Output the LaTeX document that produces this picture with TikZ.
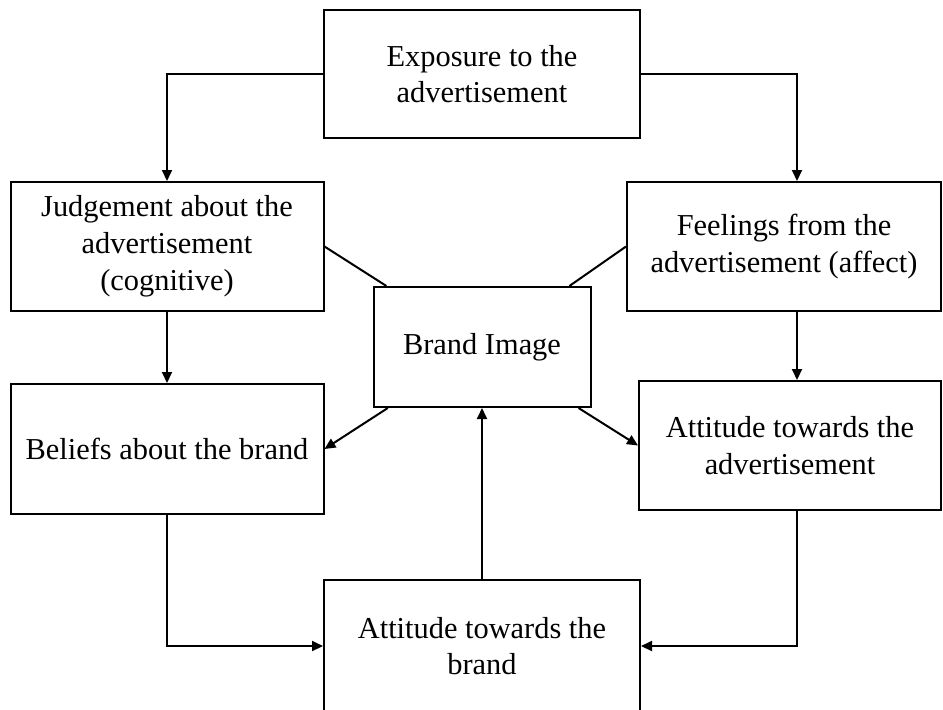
\documentclass[tikz,border=0pt]{standalone}
\usepackage{fontspec}
\setmainfont{Liberation Serif}
\usetikzlibrary{arrows.meta}
\begin{document}
\begin{tikzpicture}[x=0.5pt,y=-0.5pt,
    box/.style={draw,line width=1pt,align=center,inner sep=0pt,
      font=\fontsize{15.2}{18.4}\selectfont},
    arr/.style={line width=1pt,-{Triangle[length=5.5pt,width=5pt]}},
    link/.style={line width=1pt}]
                \useasboundingbox (0,0) rectangle (943,709);
                \node[box,minimum width=158pt,minimum height=64pt] (expo) at (482,74) {Exposure to the\\advertisement};
                \node[box,minimum width=156.5pt,minimum height=64.5pt] (judge) at (167,246.5) {Judgement about the\\advertisement\\(cognitive)};
                \node[box,minimum width=157pt,minimum height=64.5pt] (feel) at (784,246.5) {Feelings from the\\advertisement (affect)};
                \node[box,minimum width=108.5pt,minimum height=60pt] (brand) at (482,347) {Brand Image};
                \node[box,minimum width=156.5pt,minimum height=65pt] (beliefs) at (167,449) {Beliefs about the brand};
                \node[box,minimum width=151pt,minimum height=64.5pt] (attad) at (790,445.5) {Attitude towards the\\advertisement};
                \node[box,minimum width=158pt,minimum height=66pt] (attbr) at (482,646) {Attitude towards the\\brand};
                \coordinate (rcol) at (797,0);
                % flow down the two sides
                \draw[arr] (expo.west) -| (judge.north);
                \draw[arr] (expo.east) -| (rcol |- feel.north);
                \draw[arr] (judge.south) -- (beliefs.north);
                \draw[arr] (rcol |- feel.south) -- (rcol |- attad.north);
                \draw[arr] (beliefs.south) |- (attbr.west);
                \draw[arr] (rcol |- attad.south) |- (attbr.east);
                \draw[arr] (attbr.north) -- (brand.south);
                % links round the brand image
                \draw[link] (judge.east) -- (brand);
                \draw[link] (feel.west) -- (brand);
                \draw[arr] (brand) -- (beliefs.east);
                \draw[arr] (brand) -- (attad.west);
            \end{tikzpicture}
\end{document}
